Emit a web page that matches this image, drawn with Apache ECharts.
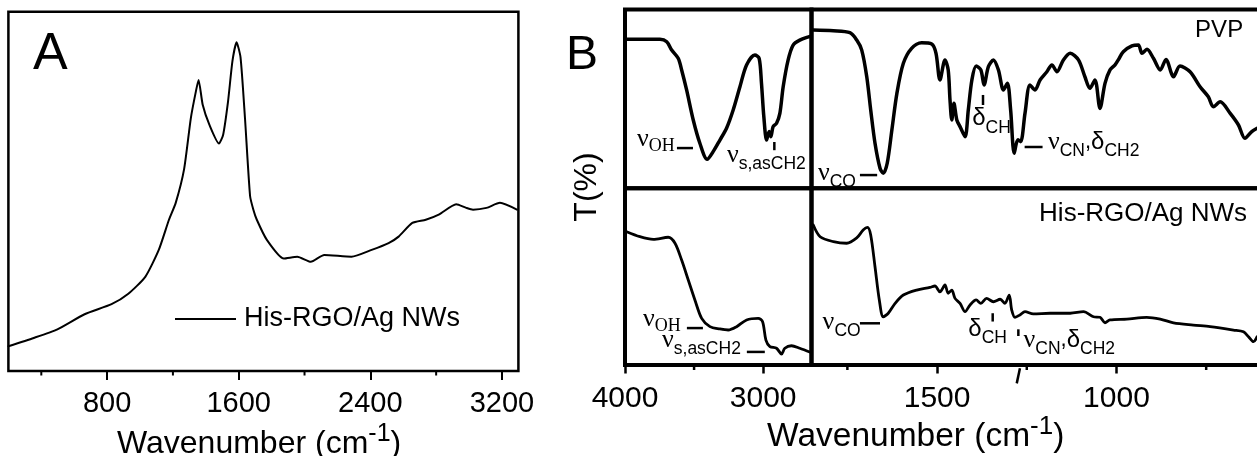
<!DOCTYPE html>
<html>
<head>
<meta charset="utf-8">
<script src="https://cdn.jsdelivr.net/npm/echarts@6/dist/echarts.min.js"></script>
<style>
  html, body { margin: 0; padding: 0; background: #fff; }
  #chart { width: 1257px; height: 456px; }
</style>
</head>
<body>
<div id="chart"></div>
<script>
// ---------- Panel A: Raman spectrum of His-RGO/Ag NWs ----------
const ramanShift = [200, 354, 498, 663, 827, 929, 1032, 1114, 1176, 1217, 1268, 1309, 1340, 1356, 1381, 1422, 1480, 1505, 1535, 1562, 1587, 1611, 1638, 1669, 1689, 1710, 1771, 1874, 1956, 2038, 2120, 2285, 2408, 2511, 2572, 2655, 2737, 2819, 2922, 2983, 3024, 3106, 3188, 3291];
const ramanIntensity = [6.9, 9.2, 11.6, 15.8, 18.6, 21.5, 26.2, 33.7, 42.1, 46.8, 56.2, 70.4, 77.9, 81.0, 74.1, 68.5, 63.3, 65.7, 75.0, 86.3, 91.5, 87.3, 70.4, 48.7, 44.9, 42.1, 36.5, 31.3, 31.8, 30.4, 32.3, 31.8, 33.7, 35.6, 37.4, 41.2, 42.1, 43.6, 46.4, 45.4, 44.9, 45.4, 46.8, 44.9];
const ramanMajorTicks = [800, 1600, 2400, 3200];
const ramanMinorTicks = [400, 1200, 2000, 2800];

// ---------- Panel B: FTIR transmittance, broken wavenumber axis ----------
// PVP, 4000–2650 cm-1
const pvpHighWn = [4000, 3747, 3698, 3662, 3615, 3590, 3554, 3506, 3458, 3405, 3362, 3313, 3265, 3217, 3168, 3120, 3060, 3029, 3012, 2995, 2975, 2957, 2944, 2928, 2903, 2879, 2855, 2819, 2783, 2735, 2651];
const pvpHighT = [83.3, 83.3, 82.0, 77.3, 72.7, 66.2, 55.0, 38.2, 25.2, 16.2, 20.5, 27.0, 33.6, 43.8, 56.8, 69.0, 74.6, 72.7, 58.7, 40.0, 27.0, 31.7, 28.9, 34.5, 36.4, 41.9, 56.8, 71.8, 80.1, 82.9, 85.2];
// PVP, 1850–600 cm-1
const pvpLowWn = [1845, 1789, 1743, 1724, 1710, 1696, 1685, 1673, 1659, 1650, 1639, 1626, 1612, 1594, 1571, 1543, 1515, 1503, 1492, 1478, 1469, 1464, 1459, 1453, 1445, 1436, 1422, 1413, 1403, 1391, 1378, 1369, 1357, 1343, 1329, 1315, 1304, 1295, 1285, 1275, 1267, 1255, 1241, 1227, 1213, 1194, 1180, 1166, 1148, 1129, 1106, 1088, 1074, 1060, 1046, 1032, 1018, 1004, 995, 981, 957, 939, 929, 915, 897, 878, 862, 841, 823, 795, 767, 744, 730, 711, 683, 660, 642, 623, 608];
const pvpLowT = [88.5, 88.1, 87.0, 82.9, 77.3, 62.4, 43.8, 25.2, 11.2, 8.4, 14.0, 32.6, 53.1, 69.9, 78.3, 81.4, 80.7, 75.5, 60.6, 71.8, 66.2, 49.4, 38.2, 47.5, 38.2, 34.5, 28.9, 43.8, 60.6, 68.4, 66.2, 57.8, 68.0, 71.8, 66.2, 55.0, 58.7, 43.8, 19.6, 27.1, 26.1, 41.9, 57.8, 55.0, 60.6, 65.2, 69.0, 65.2, 71.8, 75.5, 71.8, 62.4, 55.9, 60.6, 44.7, 58.7, 66.2, 69.0, 71.8, 76.4, 79.6, 80.1, 75.5, 77.7, 72.7, 66.2, 72.1, 62.4, 68.4, 65.2, 56.8, 51.2, 45.6, 48.4, 41.9, 35.4, 28.0, 31.7, 33.6];
// His-RGO/Ag NWs, 4000–2650 cm-1
const hisHighWn = [3988, 3892, 3795, 3687, 3638, 3590, 3542, 3494, 3445, 3385, 3313, 3253, 3192, 3120, 3036, 3004, 2980, 2951, 2903, 2867, 2843, 2795, 2735, 2658];
const hisHighT = [75.4, 72.6, 71.1, 72.3, 68.9, 59.4, 48.1, 36.8, 26.4, 21.7, 20.4, 19.8, 21.7, 25.5, 26.4, 24.5, 14.1, 10.4, 9.5, 6.2, 9.5, 10.9, 9.5, 7.2];
// His-RGO/Ag NWs, 1850–600 cm-1
const hisLowWn = [1845, 1826, 1789, 1752, 1724, 1706, 1694, 1685, 1673, 1661, 1650, 1636, 1617, 1594, 1557, 1520, 1506, 1492, 1478, 1469, 1459, 1450, 1436, 1422, 1408, 1391, 1378, 1362, 1343, 1324, 1311, 1299, 1292, 1283, 1269, 1255, 1232, 1185, 1129, 1092, 1064, 1046, 1032, 1018, 971, 916, 878, 841, 786, 739, 674, 646, 632, 618, 608];
const hisLowT = [79.2, 72.6, 69.8, 68.9, 71.9, 76.4, 77.9, 73.6, 55.6, 36.8, 27.3, 29.3, 34.9, 39.6, 42.4, 43.9, 44.7, 41.4, 45.3, 40.6, 42.4, 37.7, 34.9, 30.2, 34.0, 36.8, 34.9, 37.7, 35.8, 37.2, 34.9, 39.6, 31.1, 27.0, 28.3, 30.2, 28.9, 29.3, 29.3, 30.2, 27.3, 27.0, 23.9, 25.5, 26.0, 27.0, 26.0, 23.9, 22.6, 21.7, 19.8, 18.8, 16.0, 13.2, 16.0];

const ftirHighMajorTicks = [4000, 3000];
const ftirHighMinorTicks = [3500];
const ftirLowMajorTicks = [1500, 1000];
const ftirLowMinorTicks = [1750, 1250, 750];

// Band assignments: panel, wavenumber / T(%) of the label anchor, rich text
const bandLabels = [
  { panel: 'pvpHigh', wn: 3913, t: 27.6, text: '{n|ν}{o|OH}' },
  { panel: 'pvpHigh', wn: 3262, t: 18.6, text: '{n|ν}{s|s,asCH2}' },
  { panel: 'pvpLow',  wn: 1832, t: 8.2,  text: '{n|ν}{s|CO}' },
  { panel: 'pvpLow',  wn: 1402, t: 38.9, text: '{d|δ}{s|CH}' },
  { panel: 'pvpLow',  wn: 1191, t: 25.9, text: '{n|ν}{s|CN}{c|,}{d|δ}{s|CH2}' },
  { panel: 'pvpLow',  wn: 647,  t: 88.5, text: '{p|PVP}', align: 'right' },
  { panel: 'hisHigh', wn: 3870, t: 26.0, text: '{n|ν}{o|OH}' },
  { panel: 'hisHigh', wn: 3732, t: 14.1, text: '{n|ν}{s|s,asCH2}' },
  { panel: 'hisLow',  wn: 1819, t: 24.3, text: '{n|ν}{s|CO}' },
  { panel: 'hisLow',  wn: 1413, t: 20.0, text: '{d|δ}{s|CH}' },
  { panel: 'hisLow',  wn: 1259, t: 14.0, text: '{n|ν}{s|CN}{c|,}{d|δ}{s|CH2}' },
  { panel: 'hisLow',  wn: 636,  t: 85.3, text: '{h|His-RGO/Ag NWs}', align: 'right' }
];
// Leader marks next to the bands: panel, [wn1, t1], [wn2, t2]
const leaderMarks = [
  ['pvpHigh', [3624, 22.5], [3508, 22.5]],
  ['pvpHigh', [2919, 25.9], [2919, 21.3]],
  ['pvpLow',  [1715, 7.4],  [1667, 7.4]],
  ['pvpLow',  [1372, 52.2], [1372, 46.6]],
  ['pvpLow',  [1256, 23.1], [1206, 23.1]],
  ['hisHigh', [3552, 20.9], [3436, 20.9]],
  ['hisHigh', [3118, 7.4],  [2988, 7.4]],
  ['hisLow',  [1715, 23.6], [1659, 23.6]],
  ['hisLow',  [1345, 29.3], [1345, 24.6]],
  ['hisLow',  [1273.5, 20.2], [1273.5, 16.4]],
  ['hisLow',  [1269, -1.9], [1278, -10.4]]
];

const SANS = '"Liberation Sans", Arial, sans-serif';
const SERIF = '"Liberation Serif", "Times New Roman", serif';
const zip = (xs, ys) => xs.map((x, i) => [x, ys[i]]);
const panelGrid = { raman: 0, pvpHigh: 1, pvpLow: 2, hisHigh: 3, hisLow: 4 };

const chart = echarts.init(document.getElementById('chart'), null, { renderer: 'canvas' });

const gridBase = { show: true, borderColor: '#000', backgroundColor: 'transparent', outerBoundsMode: 'none', containLabel: false };
const grids = [
  Object.assign({}, gridBase, { left: 8.4, top: 11.7, width: 510, height: 359.3, borderWidth: 2.5 }),
  Object.assign({}, gridBase, { left: 625, top: 9.5, width: 186.5, height: 178.8, borderWidth: 4 }),
  Object.assign({}, gridBase, { left: 811.5, top: 9.5, width: 448.5, height: 178.8, borderWidth: 4 }),
  Object.assign({}, gridBase, { left: 625, top: 188.3, width: 186.5, height: 176.7, borderWidth: 4 }),
  Object.assign({}, gridBase, { left: 811.5, top: 188.3, width: 448.5, height: 176.7, borderWidth: 4 })
];

function bottomAxis(gridIndex, min, max, inverse, majors, fontSize, tickWidth, tickLen, margin) {
  return {
    type: 'value', gridIndex, min, max, inverse, position: 'bottom',
    axisLine: { show: false },
    splitLine: { show: false },
    axisTick: { show: true, customValues: majors, length: tickLen, lineStyle: { color: '#000', width: tickWidth } },
    axisLabel: {
      show: true, customValues: majors, margin, color: '#000',
      fontSize, fontFamily: SANS, showMinLabel: true, showMaxLabel: true, hideOverlap: false,
      formatter: v => String(v)
    }
  };
}
function hiddenAxis(gridIndex, min, max, inverse) {
  return { type: 'value', gridIndex, min, max, inverse, show: false, splitLine: { show: false } };
}

const xAxes = [
  bottomAxis(0, 200, 3300, false, ramanMajorTicks, 29, 2, 9, 18),
  hiddenAxis(1, 2650, 4000, true),
  hiddenAxis(2, 600, 1850, true),
  bottomAxis(3, 2650, 4000, true, ftirHighMajorTicks, 30, 2.5, 8.5, 18.5),
  bottomAxis(4, 600, 1850, true, ftirLowMajorTicks, 30, 2.5, 8.5, 18.5)
];
const yAxes = [0, 1, 2, 3, 4].map(i => ({ type: 'value', gridIndex: i, min: 0, max: 100, show: false, splitLine: { show: false } }));

// short outward ticks between the labelled ones
function minorTicks(axisIndex, values, len, width) {
  return {
    type: 'custom', xAxisIndex: axisIndex, yAxisIndex: axisIndex, silent: true, clip: false,
    data: values.map(v => [v, 0]),
    renderItem: (params, api) => {
      const p = api.coord([api.value(0), api.value(1)]);
      return { type: 'line', shape: { x1: p[0], y1: p[1], x2: p[0], y2: p[1] + len }, style: { stroke: '#000', lineWidth: width } };
    }
  };
}
function spectrum(name, axisIndex, xs, ys, width, smooth) {
  return {
    name, type: 'line', xAxisIndex: axisIndex, yAxisIndex: axisIndex,
    data: zip(xs, ys), showSymbol: false, symbol: 'none', smooth,
    lineStyle: { color: '#000', width, join: 'round', cap: 'round' },
    itemStyle: { color: '#000' }, emphasis: { disabled: true }
  };
}

chart.setOption({
  animation: false,
  backgroundColor: '#fff',
  grid: grids,
  xAxis: xAxes,
  yAxis: yAxes,
  legend: {
    data: [{ name: 'His-RGO/Ag NWs', icon: 'rect' }], left: 175, top: 305.5, padding: 0,
    itemWidth: 61, itemHeight: 2, selectedMode: false,
    itemStyle: { color: '#000' },
    textStyle: { fontSize: 27, fontFamily: SANS, color: '#000', padding: [0, 0, 0, 3] }
  },
  series: [
    spectrum('His-RGO/Ag NWs', 0, ramanShift, ramanIntensity, 2, 0.2),
    spectrum('PVP 4000-2650', 1, pvpHighWn, pvpHighT, 3.5, 0.3),
    spectrum('PVP 1850-600', 2, pvpLowWn, pvpLowT, 3.5, 0.3),
    spectrum('His 4000-2650', 3, hisHighWn, hisHighT, 2.8, 0.3),
    spectrum('His 1850-600', 4, hisLowWn, hisLowT, 2.8, 0.3),
    minorTicks(0, ramanMinorTicks, 4.5, 2),
    minorTicks(3, ftirHighMinorTicks, 5, 2.5),
    minorTicks(4, ftirLowMinorTicks, 5, 2.5)
  ]
});

// ---------- text and leader marks ----------
const noteRich = {
  n: { fontFamily: SERIF, fontSize: 26, fill: '#000' },
  o: { fontFamily: SERIF, fontSize: 18, fill: '#000', padding: [14, 0, 0, 0] },
  s: { fontFamily: SANS, fontSize: 17.5, fill: '#000', padding: [18, 0, 0, 0] },
  d: { fontFamily: SANS, fontSize: 24, fill: '#000' },
  c: { fontFamily: SANS, fontSize: 22, fill: '#000' },
  p: { fontFamily: SANS, fontSize: 24, fill: '#000' },
  h: { fontFamily: SANS, fontSize: 26, fill: '#000' }
};

const elements = [];
const txt = (x, y, text, rich, align, extra) => Object.assign({
  type: 'text', x, y, silent: true,
  style: { text, rich, fill: '#000', align: align, textAlign: align, verticalAlign: 'middle', textVerticalAlign: 'middle' }
}, extra || {});
const plain = (x, y, text, fontSize, align, extra) => Object.assign({
  type: 'text', x, y, silent: true,
  style: { text, fill: '#000', fontSize, fontFamily: SANS, align, verticalAlign: 'middle' }
}, extra || {});

// panel letters and axis titles
elements.push(plain(33, 55, 'A', 52, 'left'));
elements.push(plain(566, 55.4, 'B', 48, 'left'));
elements.push(plain(587, 187, 'T(%)', 32, 'center', { rotation: Math.PI / 2 }));
elements.push(txt(117, 444, '{t|Wavenumber (cm}{u|-1}{t|)}', {
  t: { fontSize: 32, fontFamily: SANS, fill: '#000' },
  u: { fontSize: 25, fontFamily: SANS, fill: '#000', padding: [0, 0, 20, 0] }
}, 'left'));
elements.push(txt(767, 437, '{t|Wavenumber (cm}{u|-1}{t|)}', {
  t: { fontSize: 33.5, fontFamily: SANS, fill: '#000' },
  u: { fontSize: 26, fontFamily: SANS, fill: '#000', padding: [0, 0, 21, 0] }
}, 'left'));

bandLabels.forEach(b => {
  const p = chart.convertToPixel({ gridIndex: panelGrid[b.panel] }, [b.wn, b.t]);
  elements.push(txt(p[0], p[1], b.text, noteRich, b.align || 'left'));
});
leaderMarks.forEach(([panel, a, b]) => {
  const g = { gridIndex: panelGrid[panel] };
  const p1 = chart.convertToPixel(g, a);
  const p2 = chart.convertToPixel(g, b);
  elements.push({
    type: 'line', silent: true,
    shape: { x1: p1[0], y1: p1[1], x2: p2[0], y2: p2[1] },
    style: { stroke: '#000', lineWidth: 2.5 }
  });
});

chart.setOption({ graphic: { elements } });
</script>
</body>
</html>
